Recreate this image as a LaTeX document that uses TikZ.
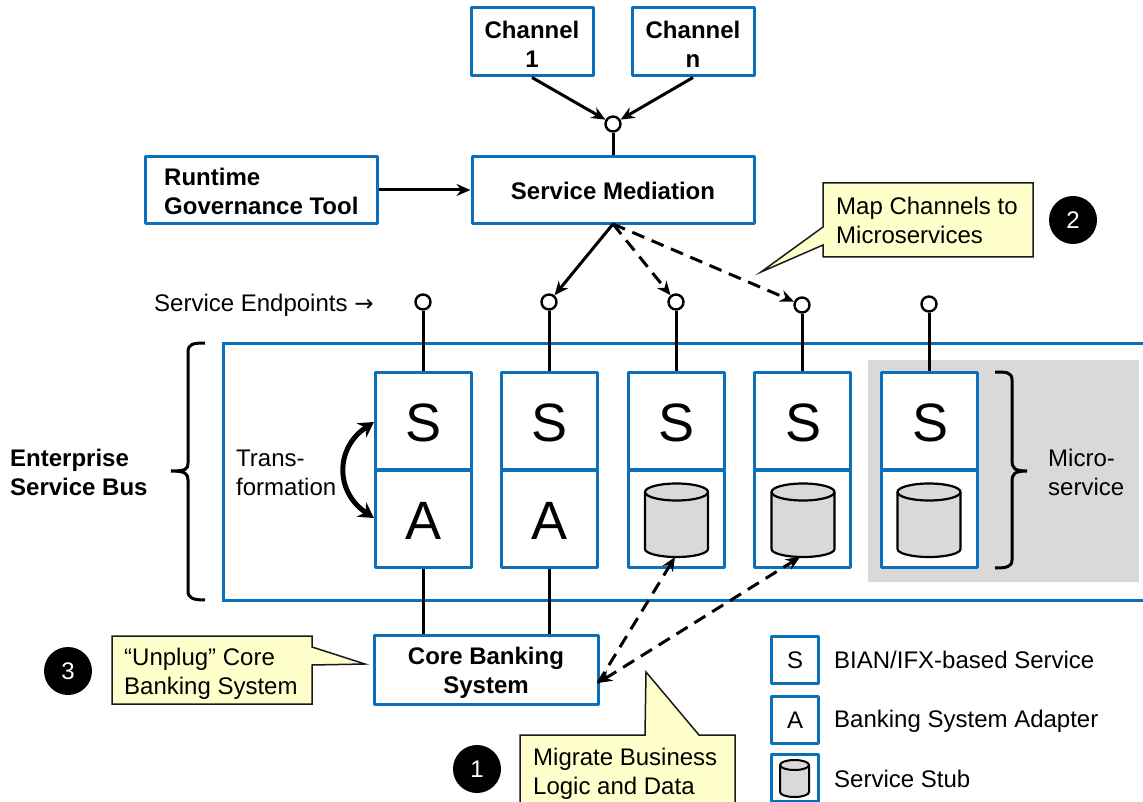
\documentclass[tikz,border=0pt]{standalone}
\usepackage{fontspec}
\setmainfont{Liberation Sans}
\usetikzlibrary{arrows.meta,shapes.geometric,calc}
\definecolor{bl}{HTML}{0A70BC}
\definecolor{note}{HTML}{FFFFCC}
\definecolor{notel}{HTML}{1A1A1A}
\definecolor{cyl}{HTML}{D9D9D9}
\tikzset{x=1pt,y=-1pt,
 box/.style={draw=bl,line width=3pt,line join=round,fill=white,align=center,inner sep=0pt},
 btext/.style={align=center,inner sep=0pt,font=\fontsize{24}{29}\selectfont\bfseries},
 sbox/.style={draw=bl,line width=3pt,line join=round,fill=white,inner sep=0pt,minimum width=96,minimum height=97},
 bigl/.style={inner sep=0pt,font=\fontsize{54}{54}\selectfont},
 lbox/.style={draw=bl,line width=3pt,line join=round,fill=white,inner sep=0pt,font=\fontsize{24}{24}\selectfont,minimum width=47,minimum height=47},
 txt/.style={inner sep=0pt,font=\fontsize{24}{29}\selectfont,align=left,anchor=west},
 btxt/.style={txt,font=\fontsize{24}{29}\selectfont\bfseries},
 callout/.style={draw=notel,line width=1.5pt,fill=note},
 ntxt/.style={inner sep=0pt,font=\fontsize{24}{29}\selectfont,align=left,anchor=west},
 lolli/.style={draw=black,line width=2.4pt,fill=white,circle,minimum size=15,inner sep=0pt},
 ln/.style={black,line width=3pt},
 ar/.style={ln,-{Stealth[length=14pt,width=12pt]}},
 dar/.style={ar,dash pattern=on 13pt off 8pt},
 num/.style={fill=black,circle,minimum size=48,inner sep=0pt,text=white,font=\fontsize{24}{24}\selectfont}}
\newcommand{\cyl}[2]{%
 \draw[black,line width=2.2pt,fill=cyl] (#1-31.5,#2) -- (#1-31.5,#2+57) arc[start angle=180,end angle=0,x radius=31.5,y radius=8] -- (#1+31.5,#2) arc[start angle=0,end angle=-180,x radius=31.5,y radius=8.5] -- cycle;
 \draw[black,line width=2.2pt] (#1-31.5,#2) arc[start angle=180,end angle=0,x radius=31.5,y radius=8.5];}
\begin{document}
\begin{tikzpicture}
\useasboundingbox (0,0) rectangle (1143,802);
\fill[white] (0,0) rectangle (1143,802);
% bus
\draw[bl,line width=3pt] (1143,343) -- (223,343) -- (223,600) -- (1143,600);
\fill[cyl] (868,360) rectangle (1139,582);
% channels
\node[box,minimum width=122,minimum height=68] (c1) at (532,42) {};
\node[btext] (c1t) at (532,44) {Channel\\1};
\node[box,minimum width=122,minimum height=68] (cn) at (693,42) {};
\node[btext] (cnt) at (693,44) {Channel\\n};
\node[lolli] (j) at (613,124) {};
\node[box,minimum width=282,minimum height=67] (sm) at (613,190) {};
\node[btext] (smt) at (613,191) {Service Mediation};
\node[box,minimum width=232,minimum height=67] (rg) at (261,190) {};
\node[btxt] (rgt) at (164,191) {Runtime\\Governance Tool};
\draw[ar] (c1.south) -- (j);
\draw[ar] (cn.south) -- (j);
\draw[ln] (j) -- (sm);
\draw[ar] (rg) -- (sm);
% endpoints
\node[txt] (se) at (154,305) {Service Endpoints \fontspec{DejaVu Sans}\fontsize{23}{23}\selectfont→};
\foreach \n/\x/\y in {1/423/302,2/549/302,3/676/302,4/802/305,5/929/304}{
 \node[lolli] (e\n) at (\x,\y) {};
 \node[sbox] (s\n) at (\x,421) {};
 \node[bigl] (s\n t) at (\x+1,423) {S};
 \draw[ln] (e\n) -- (s\n);
}
\node[sbox] (a1) at (423,518.5) {};
\node[bigl] (a1t) at (424,520.5) {A};
\node[sbox] (a2) at (549,518.5) {};
\node[bigl] (a2t) at (550,520.5) {A};
\node[sbox] (d3) at (676,518.5) {};
\node[sbox] (d4) at (802,518.5) {};
\node[sbox] (d5) at (929,518.5) {};
\cyl{676.5}{492}
\cyl{803}{492}
\cyl{929}{492}
\coordinate (m) at (613,224);
\draw[ar] (m) -- (e2);
\draw[dar] (m) -- (e3);
\draw[dar] (m) -- (e4);
% callout 2
\draw[callout,fill=note] (823,183) -- (1033,183) -- (1033,257) -- (823,257) -- (823,245) -- (761,272) -- (823,227) -- cycle;
\node[ntxt] (t2) at (836,220) {Map Channels to\\Microservices};
\node[num] (n2) at (1073,220) {2};
% bracket
\draw[ln] (205,343) .. controls (193,343) and (188,344) .. (188,352) -- (188,463) .. controls (188,469) and (186,471) .. (171,471) .. controls (186,471) and (188,474) .. (188,480) -- (188,591) .. controls (188,598) and (193,600) .. (205,600);
\node[btxt] (eb) at (10,472) {Enterprise\\Service Bus};
\node[txt] (tf) at (236,473) {Trans-\\formation};
\draw[line width=5pt,{Stealth[length=15pt,width=17pt]}-{Stealth[length=15pt,width=17pt]}] (374,422) .. controls (335,448) and (335,492) .. (374,518);
% right bracket
\draw[ln] (995,372) .. controls (1006,372) and (1012,372) .. (1012,380) -- (1012,460) .. controls (1012,468) and (1014,471) .. (1027,471) .. controls (1014,471) and (1012,474) .. (1012,482) -- (1012,560) .. controls (1012,567) and (1006,568) .. (995,568);
\node[txt] (ms) at (1048,472) {Micro-\\service};
% core
\node[box,minimum width=224,minimum height=69] (cb) at (486,670) {};
\node[btext] (cbt) at (486,673) {Core Banking\\System};
\draw[ln] (a1) -- (a1|-cb.north);
\draw[ln] (a2) -- (a2|-cb.north);
\coordinate (cbe) at (598,683);
\coordinate (t3) at (675,557);
\coordinate (t4) at (800,557);
\draw[dar] (cbe) -- (t3);
\draw[dar,{Stealth[length=14pt,width=12pt]}-{Stealth[length=14pt,width=12pt]}] (cbe) -- (t4);
% callout 3
\draw[callout] (112,636) -- (312,636) -- (312,647) -- (365,664) -- (312,665) -- (312,704) -- (112,704) -- cycle;
\node[ntxt] (t3n) at (124,674) {“Unplug” Core\\Banking System};
\node[num] (n3) at (68,671) {3};
% callout 1
\draw[callout] (520,802) -- (520,735) -- (645,735) -- (646,672) -- (699,735) -- (735,735) -- (735,802);
\node[ntxt] (t1n) at (533,774) {Migrate Business\\Logic and Data};
\node[num] (n1) at (477,769) {1};
% legend
\node[lbox] (ls) at (795,660) {S};
\node[lbox] (la) at (795,720) {A};
\node[lbox] (lc) at (795,778) {};
\draw[black,line width=2pt,fill=cyl] (780,765) -- (780,792) arc[start angle=180,end angle=0,x radius=14.5,y radius=5] -- (809,765) arc[start angle=0,end angle=-180,x radius=14.5,y radius=5] -- cycle;
\draw[black,line width=2pt] (780,765) arc[start angle=180,end angle=0,x radius=14.5,y radius=5];
\node[txt] (l1) at (834,660) {BIAN/IFX-based Service};
\node[txt] (l2) at (834,721) {Banking System Adapter};
\node[txt] (l3) at (834,779) {Service Stub};
\end{tikzpicture}
\end{document}
